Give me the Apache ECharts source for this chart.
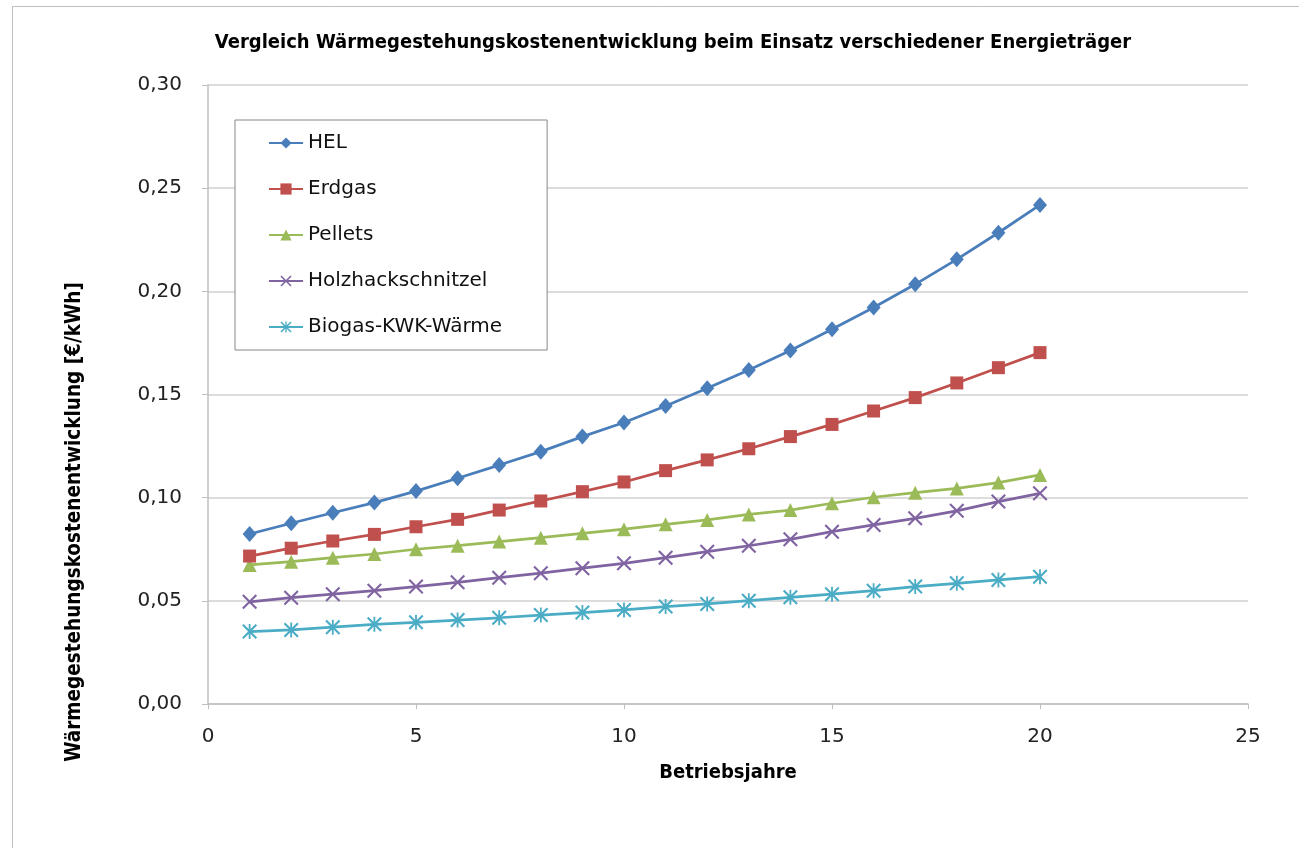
<!DOCTYPE html>
<html>
<head>
<meta charset="utf-8">
<script src="https://cdn.jsdelivr.net/npm/echarts@6/dist/echarts.min.js"></script>
<style>
  html, body { margin: 0; padding: 0; background: #ffffff; }
  #chart { width: 1299px; height: 848px; }
</style>
</head>
<body>
<div id="chart"></div>
<script>
// Betriebsjahre 1..20
const years = [1, 2, 3, 4, 5, 6, 7, 8, 9, 10, 11, 12, 13, 14, 15, 16, 17, 18, 19, 20];

// Wärmegestehungskosten in €/kWh je Energieträger
const hel = [0.0824, 0.0876, 0.0927, 0.0976, 0.1032, 0.1094, 0.1158, 0.1223, 0.1296, 0.1364,
             0.1444, 0.1530, 0.1619, 0.1713, 0.1816, 0.1922, 0.2034, 0.2155, 0.2284, 0.2419];
const erdgas = [0.0717, 0.0755, 0.0790, 0.0822, 0.0859, 0.0895, 0.0940, 0.0984, 0.1029, 0.1076,
                0.1131, 0.1183, 0.1237, 0.1296, 0.1355, 0.1420, 0.1485, 0.1556, 0.1630, 0.1703];
const pellets = [0.0674, 0.0690, 0.0709, 0.0727, 0.0750, 0.0767, 0.0787, 0.0806, 0.0827, 0.0847,
                 0.0871, 0.0892, 0.0919, 0.0940, 0.0973, 0.1002, 0.1024, 0.1045, 0.1073, 0.1110];
const holz = [0.0495, 0.0515, 0.0532, 0.0549, 0.0569, 0.0590, 0.0612, 0.0634, 0.0658, 0.0682,
              0.0709, 0.0738, 0.0767, 0.0798, 0.0835, 0.0868, 0.0900, 0.0936, 0.0981, 0.1021];
const biogas = [0.0351, 0.0359, 0.0372, 0.0386, 0.0396, 0.0407, 0.0418, 0.0431, 0.0443, 0.0456,
                0.0472, 0.0485, 0.0501, 0.0517, 0.0532, 0.0549, 0.0569, 0.0585, 0.0601, 0.0617];

const seriesNames = ['HEL', 'Erdgas', 'Pellets', 'Holzhackschnitzel', 'Biogas-KWK-Wärme'];
const seriesValues = [hel, erdgas, pellets, holz, biogas];

const chartTitle = 'Vergleich Wärmegestehungskostenentwicklung beim Einsatz verschiedener Energieträger';
const xAxisTitle = 'Betriebsjahre';
const yAxisTitle = 'Wärmegestehungskostenentwicklung [€/kWh]';

const colors = ['#4a7ebb', '#c0504d', '#9bbb59', '#8064a2', '#4bacc6'];

// Marker shapes: diamond, square, triangle, cross, asterisk
const crossPath = 'path://M1,0 L5,4 L9,0 L10,1 L6,5 L10,9 L9,10 L5,6 L1,10 L0,9 L4,5 L0,1 Z';
const starPath = 'path://M1,0 L5,4 L9,0 L10,1 L6,5 L10,9 L9,10 L5,6 L1,10 L0,9 L4,5 L0,1 Z M4.4,0 L5.6,0 L5.6,10 L4.4,10 Z';
const symbols = ['diamond', 'rect', 'triangle', crossPath, starPath];
const symbolSizes = [[14, 16], 13, 14, 15, 15];

const labelFont = '"DejaVu Sans", "Open Sans", sans-serif';
const narrowBold = '"DejaVu Sans Condensed", "Open Sans", sans-serif';

const chart = echarts.init(document.getElementById('chart'), null, { renderer: 'canvas' });

const series = seriesNames.map((name, i) => ({
  name: name,
  type: 'line',
  data: years.map((y, k) => [y, seriesValues[i][k]]),
  symbol: symbols[i],
  symbolSize: symbolSizes[i],
  showSymbol: true,
  lineStyle: { color: colors[i], width: 2.75 },
  itemStyle: { color: colors[i] },
  emphasis: { disabled: true },
  z: 10 - i
}));

chart.setOption({
  animation: false,
  backgroundColor: '#ffffff',
  color: colors,
  graphic: [{
    type: 'rect',
    shape: { x: 12.5, y: 6.5, width: 1400, height: 1000 },
    style: { fill: 'none', stroke: '#bfbfbf', lineWidth: 1 },
    silent: true,
    z: -1
  }, {
    // vertical axis title, placed the way the chart layout has it
    type: 'text',
    x: 75,
    y: 522,
    rotation: Math.PI / 2,
    style: {
      text: yAxisTitle,
      fill: '#000000',
      font: 'bold 20.5px ' + narrowBold,
      align: 'center',
      verticalAlign: 'middle'
    },
    silent: true
  }],
  title: {
    text: chartTitle,
    left: 668,
    textAlign: 'center',
    top: 28,
    textStyle: { fontFamily: narrowBold, fontWeight: 'bold', fontSize: 20, color: '#000000' }
  },
  legend: {
    orient: 'vertical',
    left: 235,
    top: 120,
    padding: [13, 45, 13, 33],
    itemGap: 26,
    itemWidth: 34,
    itemHeight: 14,
    backgroundColor: '#ffffff',
    borderColor: '#868686',
    borderWidth: 1,
    textStyle: { fontFamily: labelFont, fontSize: 20, color: '#111111', lineHeight: 20 },
    data: seriesNames
  },
  grid: { left: 208, right: 51, top: 85, bottom: 144, containLabel: false },
  xAxis: {
    type: 'value',
    min: 0,
    max: 25,
    interval: 5,
    name: xAxisTitle,
    nameLocation: 'middle',
    nameGap: 59,
    nameTextStyle: { fontFamily: narrowBold, fontWeight: 'bold', fontSize: 20, color: '#000000' },
    axisLine: { show: true, lineStyle: { color: '#bfbfbf', width: 1.5 } },
    axisTick: { show: true, inside: false, length: 5, lineStyle: { color: '#bfbfbf' } },
    axisLabel: { fontFamily: labelFont, fontSize: 20, color: '#222222', margin: 23 },
    splitLine: { show: false }
  },
  yAxis: {
    type: 'value',
    min: 0,
    max: 0.3,
    interval: 0.05,
    axisLine: { show: true, lineStyle: { color: '#bfbfbf', width: 1.5 } },
    axisTick: { show: true, inside: false, length: 6, lineStyle: { color: '#bfbfbf' } },
    axisLabel: {
      fontFamily: labelFont, fontSize: 20, color: '#222222', margin: 26,
      formatter: v => v.toFixed(2).replace('.', ',')
    },
    splitLine: { show: true, lineStyle: { color: '#d0d0d0', width: 1.5 } }
  },
  series: series
});
</script>
</body>
</html>
